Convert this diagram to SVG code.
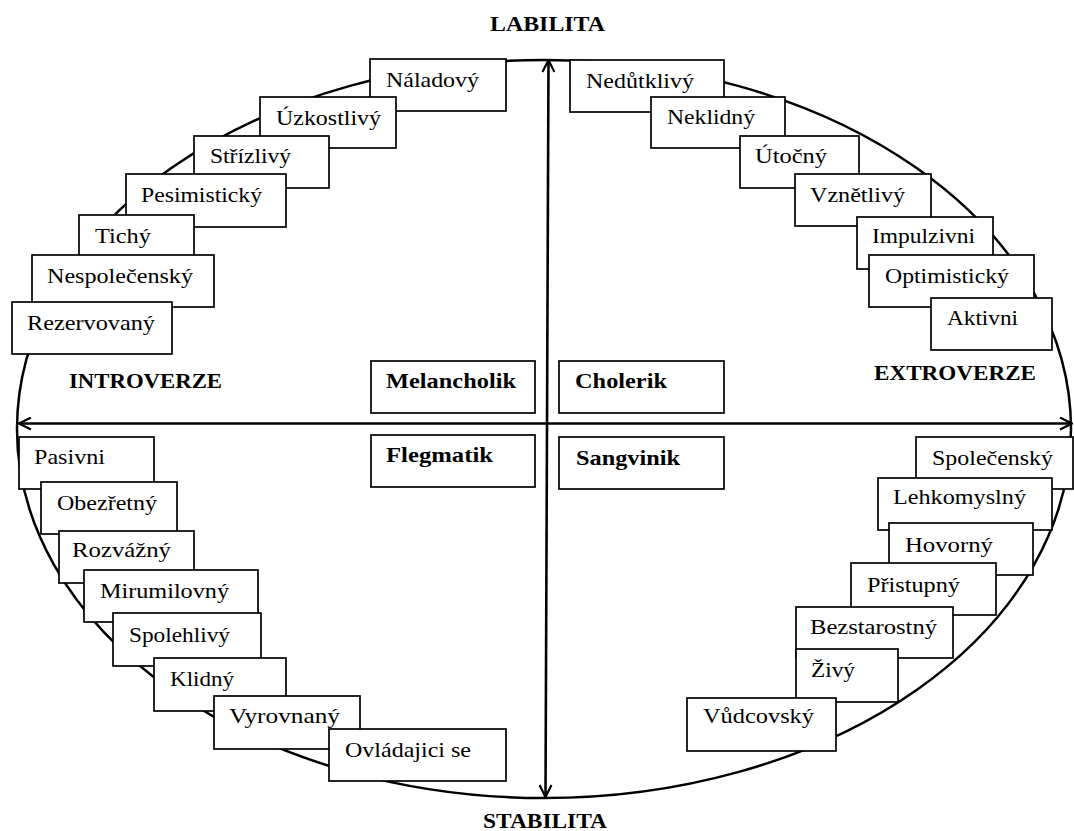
<svg xmlns="http://www.w3.org/2000/svg" width="1074" height="831" viewBox="0 0 1074 831">
<style>
.bg{fill:#fff}
.ell{fill:none;stroke:#000;stroke-width:2.5}
.box{fill:#fff;stroke:#000;stroke-width:1.7}
.t{font-family:"Liberation Serif","Times New Roman",serif;font-size:21px;fill:#000}
.b{font-weight:bold}
.ax{fill:none;stroke:#000;stroke-width:2.6}
</style>
<defs>
<marker id="arr" viewBox="0 0 14 14" refX="13" refY="7" markerWidth="14" markerHeight="14" markerUnits="userSpaceOnUse" orient="auto-start-reverse">
<path d="M1,1 L13,7 L1,13" fill="none" stroke="#000" stroke-width="2.2"/>
</marker>
</defs>
<rect class="bg" x="0" y="0" width="1074" height="831"/>
<g id="ellipse"><ellipse class="ell" cx="544" cy="429" rx="527" ry="369"/></g>
<g id="connectors">
<line class="ax" x1="19" y1="423.5" x2="1072" y2="423.5" marker-start="url(#arr)" marker-end="url(#arr)"/>
<line class="ax" x1="548.5" y1="60" x2="545.5" y2="797" marker-start="url(#arr)" marker-end="url(#arr)"/>
</g>
<g id="axis-labels">
<text class="t b" x="490" y="31" textLength="115" lengthAdjust="spacingAndGlyphs">LABILITA</text>
<text class="t b" x="483" y="828" textLength="124" lengthAdjust="spacingAndGlyphs">STABILITA</text>
<text class="t b" x="69" y="388" textLength="153" lengthAdjust="spacingAndGlyphs">INTROVERZE</text>
<text class="t b" x="874" y="380" textLength="162" lengthAdjust="spacingAndGlyphs">EXTROVERZE</text>
</g>
<g id="n-naladovy"><rect class="box" x="370" y="59" width="136" height="52"/><text class="t" x="386" y="87" textLength="93" lengthAdjust="spacingAndGlyphs">Náladový</text></g>
<g id="n-uzkostlivy"><rect class="box" x="260" y="97" width="136" height="51"/><text class="t" x="276" y="125" textLength="105" lengthAdjust="spacingAndGlyphs">Úzkostlivý</text></g>
<g id="n-strizlivy"><rect class="box" x="194" y="136" width="135" height="52"/><text class="t" x="210" y="163" textLength="81" lengthAdjust="spacingAndGlyphs">Střízlivý</text></g>
<g id="n-pesimisticky"><rect class="box" x="126" y="174" width="160" height="53"/><text class="t" x="141" y="202" textLength="121" lengthAdjust="spacingAndGlyphs">Pesimistický</text></g>
<g id="n-tichy"><rect class="box" x="79" y="215" width="115" height="45"/><text class="t" x="95" y="243" textLength="56" lengthAdjust="spacingAndGlyphs">Tichý</text></g>
<g id="n-nespolecensky"><rect class="box" x="32" y="255" width="182" height="52"/><text class="t" x="47" y="283" textLength="146" lengthAdjust="spacingAndGlyphs">Nespolečenský</text></g>
<g id="n-rezervovany"><rect class="box" x="12" y="302" width="160" height="52"/><text class="t" x="27" y="330" textLength="128" lengthAdjust="spacingAndGlyphs">Rezervovaný</text></g>
<g id="n-nedutklivy"><rect class="box" x="570" y="60" width="154" height="52"/><text class="t" x="586" y="88" textLength="108" lengthAdjust="spacingAndGlyphs">Nedůtklivý</text></g>
<g id="n-neklidny"><rect class="box" x="651" y="97" width="134" height="51"/><text class="t" x="667" y="124" textLength="88" lengthAdjust="spacingAndGlyphs">Neklidný</text></g>
<g id="n-utocny"><rect class="box" x="740" y="136" width="119" height="52"/><text class="t" x="755" y="163" textLength="72" lengthAdjust="spacingAndGlyphs">Útočný</text></g>
<g id="n-vznetlivy"><rect class="box" x="795" y="174" width="136" height="52"/><text class="t" x="810" y="202" textLength="95" lengthAdjust="spacingAndGlyphs">Vznětlivý</text></g>
<g id="n-impulzivni"><rect class="box" x="857" y="217" width="136" height="52"/><text class="t" x="872" y="243" textLength="103" lengthAdjust="spacingAndGlyphs">Impulzivni</text></g>
<g id="n-optimisticky"><rect class="box" x="869" y="255" width="165" height="52"/><text class="t" x="885" y="283" textLength="124" lengthAdjust="spacingAndGlyphs">Optimistický</text></g>
<g id="n-aktivni"><rect class="box" x="931" y="298" width="121" height="52"/><text class="t" x="947" y="325" textLength="71" lengthAdjust="spacingAndGlyphs">Aktivni</text></g>
<g id="n-melancholik"><rect class="box" x="371" y="361" width="164" height="52"/><text class="t b" x="386" y="388" textLength="130" lengthAdjust="spacingAndGlyphs">Melancholik</text></g>
<g id="n-cholerik"><rect class="box" x="559" y="361" width="165" height="52"/><text class="t b" x="575" y="388" textLength="92" lengthAdjust="spacingAndGlyphs">Cholerik</text></g>
<g id="n-flegmatik"><rect class="box" x="371" y="435" width="164" height="52"/><text class="t b" x="386" y="462" textLength="107" lengthAdjust="spacingAndGlyphs">Flegmatik</text></g>
<g id="n-sangvinik"><rect class="box" x="559" y="437" width="165" height="52"/><text class="t b" x="576" y="465" textLength="104" lengthAdjust="spacingAndGlyphs">Sangvinik</text></g>
<g id="n-pasivni"><rect class="box" x="19" y="437" width="135" height="52"/><text class="t" x="34" y="464" textLength="71" lengthAdjust="spacingAndGlyphs">Pasivni</text></g>
<g id="n-obezretny"><rect class="box" x="41" y="482" width="136" height="52"/><text class="t" x="57" y="510" textLength="100" lengthAdjust="spacingAndGlyphs">Obezřetný</text></g>
<g id="n-rozvazny"><rect class="box" x="59" y="531" width="135" height="52"/><text class="t" x="72" y="557" textLength="99" lengthAdjust="spacingAndGlyphs">Rozvážný</text></g>
<g id="n-mirumilovny"><rect class="box" x="84" y="570" width="174" height="52"/><text class="t" x="100" y="598" textLength="129" lengthAdjust="spacingAndGlyphs">Mirumilovný</text></g>
<g id="n-spolehlivy"><rect class="box" x="113" y="613" width="148" height="53"/><text class="t" x="129" y="642" textLength="101" lengthAdjust="spacingAndGlyphs">Spolehlivý</text></g>
<g id="n-klidny"><rect class="box" x="154" y="658" width="132" height="53"/><text class="t" x="170" y="686" textLength="64" lengthAdjust="spacingAndGlyphs">Klidný</text></g>
<g id="n-vyrovnany"><rect class="box" x="214" y="696" width="146" height="53"/><text class="t" x="229" y="723" textLength="111" lengthAdjust="spacingAndGlyphs">Vyrovnaný</text></g>
<g id="n-ovladajici"><rect class="box" x="329" y="729" width="177" height="52"/><text class="t" x="345" y="757" textLength="126" lengthAdjust="spacingAndGlyphs">Ovládajici se</text></g>
<g id="n-spolecensky"><rect class="box" x="916" y="437" width="157" height="52"/><text class="t" x="932" y="465" textLength="121" lengthAdjust="spacingAndGlyphs">Společenský</text></g>
<g id="n-lehkomyslny"><rect class="box" x="878" y="478" width="174" height="52"/><text class="t" x="893" y="504" textLength="133" lengthAdjust="spacingAndGlyphs">Lehkomyslný</text></g>
<g id="n-hovorny"><rect class="box" x="889" y="523" width="144" height="52"/><text class="t" x="905" y="552" textLength="88" lengthAdjust="spacingAndGlyphs">Hovorný</text></g>
<g id="n-pristupny"><rect class="box" x="851" y="563" width="145" height="52"/><text class="t" x="867" y="592" textLength="93" lengthAdjust="spacingAndGlyphs">Přistupný</text></g>
<g id="n-bezstarostny"><rect class="box" x="796" y="607" width="157" height="51"/><text class="t" x="810" y="634" textLength="127" lengthAdjust="spacingAndGlyphs">Bezstarostný</text></g>
<g id="n-zivy"><rect class="box" x="796" y="649" width="102" height="53"/><text class="t" x="811" y="677" textLength="44" lengthAdjust="spacingAndGlyphs">Živý</text></g>
<g id="n-vudcovsky"><rect class="box" x="687" y="698" width="149" height="53"/><text class="t" x="703" y="723" textLength="111" lengthAdjust="spacingAndGlyphs">Vůdcovský</text></g>
</svg>
